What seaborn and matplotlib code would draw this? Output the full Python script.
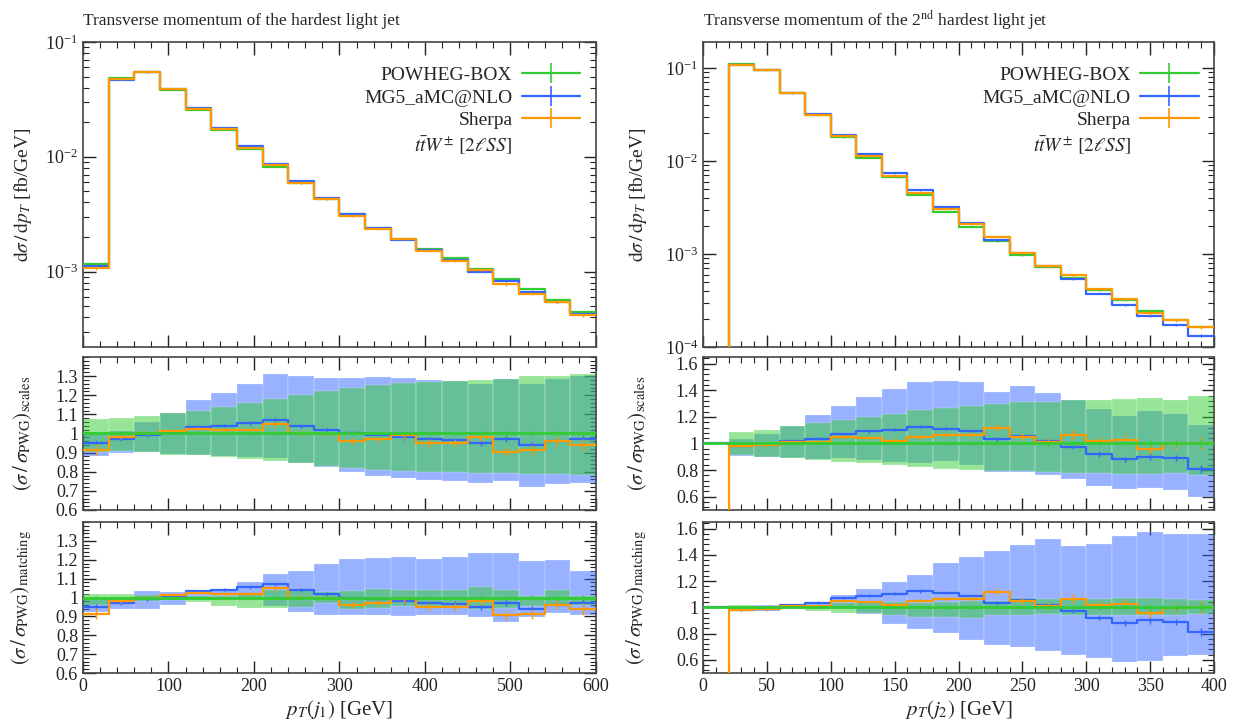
import numpy as np
import matplotlib
matplotlib.use("Agg")
import matplotlib.pyplot as plt
import seaborn as sns
from matplotlib.lines import Line2D
from matplotlib.ticker import MultipleLocator, FuncFormatter

# ---- hardest light jet, 30 GeV bins 0..600
edges_j1 = np.arange(0, 601, 30)
pwg_j1 = [1.17e-3, 0.0484, 0.0551, 0.0385, 0.0256, 0.0172, 0.0117, 0.00816, 0.00586, 0.00426,
          0.00316, 0.00241, 0.00193, 0.00158, 0.00131, 0.00105, 8.56e-4, 7.0e-4, 5.62e-4, 4.44e-4]
mg5_ratio_j1 = [0.95, 0.97, 0.99, 1.01, 1.035, 1.04, 1.055, 1.07, 1.04, 1.02,
                1.0, 0.99, 0.98, 0.97, 0.965, 0.95, 0.97, 0.94, 0.96, 0.97]
sherpa_ratio_j1 = [0.915, 0.98, 1.0, 1.015, 1.025, 1.017, 1.02, 1.048, 1.0, 0.997,
                   0.962, 0.972, 0.99, 0.95, 0.95, 0.983, 0.905, 0.913, 0.962, 0.94]
pwg_err_j1 = [0.01, 0.004, 0.004, 0.004, 0.005, 0.005, 0.006, 0.006, 0.007, 0.007,
              0.008, 0.008, 0.009, 0.01, 0.01, 0.011, 0.012, 0.012, 0.013, 0.014]
mg5_err_j1 = [0.015, 0.008, 0.006, 0.006, 0.007, 0.008, 0.008, 0.009, 0.01, 0.01,
              0.01, 0.012, 0.012, 0.013, 0.014, 0.015, 0.016, 0.017, 0.018, 0.02]
sherpa_err_j1 = [0.03, 0.01, 0.006, 0.008, 0.008, 0.01, 0.01, 0.012, 0.012, 0.012,
                 0.015, 0.015, 0.018, 0.02, 0.02, 0.022, 0.025, 0.025, 0.025, 0.03]
pwg_scale_up_j1 = [1.075, 1.08, 1.09, 1.105, 1.12, 1.14, 1.16, 1.18, 1.20, 1.22,
                   1.24, 1.255, 1.265, 1.27, 1.275, 1.28, 1.285, 1.30, 1.30, 1.31]
pwg_scale_dn_j1 = [0.905, 0.91, 0.905, 0.89, 0.885, 0.875, 0.865, 0.855, 0.845, 0.83,
                   0.82, 0.81, 0.805, 0.80, 0.80, 0.795, 0.795, 0.79, 0.79, 0.785]
mg5_scale_up_j1 = [1.01, 1.015, 1.06, 1.105, 1.175, 1.21, 1.26, 1.31, 1.30, 1.29,
                   1.29, 1.295, 1.29, 1.28, 1.275, 1.26, 1.285, 1.26, 1.285, 1.30]
mg5_scale_dn_j1 = [0.88, 0.90, 0.905, 0.895, 0.89, 0.88, 0.875, 0.87, 0.845, 0.825,
                   0.80, 0.78, 0.765, 0.755, 0.75, 0.74, 0.75, 0.72, 0.735, 0.74]
pwg_match_up_j1 = [1.02, 1.02, 1.015, 1.01, 1.01, 1.01, 1.02, 1.04, 1.04, 1.03,
                   1.035, 1.045, 1.04, 1.04, 1.04, 1.055, 1.04, 1.01, 1.04, 1.01]
pwg_match_dn_j1 = [0.96, 0.97, 0.98, 0.985, 0.975, 0.955, 0.945, 0.945, 0.95, 0.97,
                   0.94, 0.945, 0.955, 0.955, 0.955, 0.94, 0.945, 0.955, 0.96, 0.96]
mg5_match_up_j1 = [0.995, 1.0, 1.035, 1.03, 1.03, 1.04, 1.08, 1.125, 1.14, 1.175,
                   1.205, 1.21, 1.215, 1.205, 1.215, 1.235, 1.235, 1.195, 1.20, 1.14]
mg5_match_dn_j1 = [0.925, 0.94, 0.94, 0.96, 0.985, 0.985, 0.99, 0.955, 0.925, 0.905,
                   0.91, 0.905, 0.90, 0.91, 0.91, 0.895, 0.87, 0.895, 0.92, 0.91]

# ---- 2nd hardest light jet, 20 GeV bins 0..400
edges_j2 = np.arange(0, 401, 20)
pwg_j2 = [0.0, 0.110, 0.096, 0.0533, 0.0309, 0.0179, 0.0108, 0.00669, 0.00431, 0.00285,
          0.00197, 0.00137, 9.72e-4, 7.28e-4, 5.54e-4, 4.08e-4, 3.19e-4, 2.42e-4, 1.94e-4, 1.64e-4]
mg5_ratio_j2 = [1.0, 0.98, 0.99, 1.015, 1.037, 1.07, 1.09, 1.105, 1.125, 1.11,
                1.09, 1.03, 1.055, 1.02, 0.975, 0.92, 0.88, 0.90, 0.89, 0.81]
sherpa_ratio_j2 = [0.0, 0.98, 0.985, 1.01, 1.01, 1.045, 1.04, 1.02, 1.045, 1.065,
                   1.065, 1.12, 1.05, 1.01, 1.065, 1.02, 1.025, 0.96, 0.995, 1.0]
pwg_err_j2 = [0.0, 0.004, 0.004, 0.005, 0.005, 0.006, 0.006, 0.007, 0.008, 0.009,
              0.01, 0.012, 0.014, 0.016, 0.018, 0.02, 0.022, 0.025, 0.028, 0.03]
mg5_err_j2 = [0.0, 0.01, 0.01, 0.01, 0.01, 0.01, 0.01, 0.012, 0.012, 0.012,
              0.015, 0.015, 0.015, 0.02, 0.02, 0.02, 0.02, 0.025, 0.025, 0.03]
sherpa_err_j2 = [0.0, 0.01, 0.01, 0.01, 0.01, 0.012, 0.012, 0.012, 0.015, 0.015,
                 0.02, 0.025, 0.025, 0.03, 0.035, 0.03, 0.035, 0.04, 0.04, 0.045]
pwg_scale_up_j2 = [1.005, 1.085, 1.10, 1.135, 1.155, 1.175, 1.20, 1.22, 1.25, 1.27,
                   1.285, 1.30, 1.31, 1.315, 1.325, 1.33, 1.335, 1.34, 1.33, 1.36]
pwg_scale_dn_j2 = [0.995, 0.91, 0.90, 0.89, 0.875, 0.86, 0.85, 0.84, 0.82, 0.81,
                   0.80, 0.79, 0.79, 0.785, 0.78, 0.775, 0.77, 0.77, 0.775, 0.76]
mg5_scale_up_j2 = [1.0, 1.03, 1.07, 1.13, 1.215, 1.285, 1.35, 1.41, 1.46, 1.47,
                   1.46, 1.39, 1.43, 1.38, 1.325, 1.26, 1.21, 1.245, 1.225, 1.14]
mg5_scale_dn_j2 = [1.0, 0.905, 0.895, 0.89, 0.88, 0.89, 0.875, 0.86, 0.85, 0.865,
                   0.84, 0.785, 0.785, 0.76, 0.73, 0.68, 0.66, 0.665, 0.65, 0.595]
pwg_match_up_j2 = [1.005, 1.015, 1.01, 1.01, 1.015, 1.03, 1.04, 1.04, 1.035, 1.04,
                   1.045, 1.05, 1.07, 1.06, 1.06, 1.06, 1.07, 1.07, 1.06, 1.055]
pwg_match_dn_j2 = [0.995, 0.99, 0.99, 0.985, 0.97, 0.96, 0.955, 0.945, 0.925, 0.93,
                   0.92, 0.94, 0.94, 0.95, 0.945, 0.94, 0.94, 0.94, 0.945, 0.95]
mg5_match_up_j2 = [1.0, 1.005, 1.015, 1.025, 1.04, 1.095, 1.14, 1.19, 1.25, 1.335,
                   1.38, 1.43, 1.475, 1.52, 1.465, 1.48, 1.54, 1.575, 1.56, 1.555]
mg5_match_dn_j2 = [1.0, 0.975, 0.975, 0.995, 0.995, 0.985, 0.95, 0.87, 0.835, 0.805,
                   0.75, 0.71, 0.70, 0.665, 0.635, 0.615, 0.585, 0.595, 0.63, 0.635]

GREEN = "#33cc33"
BLUE = "#3366ff"
ORANGE = "#ff9900"
SPINE = "#444444"

sns.set_theme(style="ticks")
plt.rcParams["font.family"] = ["Liberation Serif", "DejaVu Serif"]
plt.rcParams["mathtext.fontset"] = "stix"
plt.rcParams["axes.edgecolor"] = SPINE
plt.rcParams["axes.linewidth"] = 1.2


def steps(ax, edges, vals, color, lw=1.6, zorder=3, floor=None):
    y = np.append(vals, vals[-1]).astype(float)
    if floor is not None:
        y = np.where(y > 0, y, floor)
    sns.lineplot(x=edges, y=y, drawstyle="steps-post", color=color, lw=lw,
                 ax=ax, estimator=None, sort=False, zorder=zorder)


def bands(ax, edges, up, dn, color, zorder):
    up = np.asarray(up)
    dn = np.asarray(dn)
    ax.bar(edges[:-1], up - dn, bottom=dn, width=np.diff(edges), align="edge",
           color=color, alpha=0.5, edgecolor="white", linewidth=0.3, zorder=zorder)


def errs(ax, centers, vals, err, color, zorder):
    vals = np.asarray(vals, dtype=float)
    err = np.asarray(err, dtype=float)
    keep = err > 0
    ax.errorbar(centers[keep], vals[keep], yerr=err[keep], fmt="none",
                ecolor=color, elinewidth=1.0, zorder=zorder)


def style(ax, xmaj, xmin, show_x):
    ax.tick_params(which="both", direction="in", top=True, right=True,
                   colors="#222222", labelsize=13)
    ax.tick_params(which="major", length=9, width=1.0)
    ax.tick_params(which="minor", length=4.5, width=0.8)
    ax.xaxis.set_major_locator(MultipleLocator(xmaj))
    ax.xaxis.set_minor_locator(MultipleLocator(xmin))
    if not show_x:
        ax.tick_params(labelbottom=False)
    for s in ax.spines.values():
        s.set_color(SPINE)
        s.set_linewidth(1.2)


def column(fig, left, width, edges, pwg, mg5_r, she_r, pwg_e, mg5_e, she_e,
           sc, mt, title, xlabel, xmaj, xmin, main_ylim, ratio_ylim, rmaj, rmin,
           rticks, label_x):
    pwg = np.asarray(pwg)
    mg5 = pwg * np.asarray(mg5_r)
    she = pwg * np.asarray(she_r)
    centers = 0.5 * (edges[:-1] + edges[1:])
    xlim = (edges[0], edges[-1])

    ax0 = fig.add_axes([left, 0.5207, width, 0.4213])
    ax1 = fig.add_axes([left, 0.2956, width, 0.2113])
    ax2 = fig.add_axes([left, 0.0704, width, 0.2086])

    # main distribution
    ax0.set_yscale("log")
    steps(ax0, edges, pwg, GREEN, floor=1e-12, zorder=3)
    steps(ax0, edges, mg5, BLUE, floor=1e-12, zorder=4)
    steps(ax0, edges, she, ORANGE, floor=1e-12, zorder=5)
    errs(ax0, centers, pwg, pwg * np.asarray(pwg_e), GREEN, 3)
    errs(ax0, centers, mg5, mg5 * np.asarray(mg5_e), BLUE, 4)
    errs(ax0, centers, she, she * np.asarray(she_e), ORANGE, 5)
    ax0.set_xlim(*xlim)
    ax0.set_ylim(*main_ylim)
    ax0.set_ylabel(r"$\mathrm{d}\sigma\,/\,\mathrm{d}p_T$ [fb/GeV]", fontsize=14)
    ax0.set_xlabel("")
    ax0.set_title(title, loc="left", fontsize=12.5, pad=12)
    style(ax0, xmaj, xmin, False)

    handles = [
        Line2D([], [], color=GREEN, lw=1.6, marker="|", markersize=14, mew=1.2),
        Line2D([], [], color=BLUE, lw=1.6, marker="|", markersize=14, mew=1.2),
        Line2D([], [], color=ORANGE, lw=1.6, marker="|", markersize=14, mew=1.2),
        Line2D([], [], color="none", lw=0),
    ]
    labels = ["POWHEG-BOX", "MG5_aMC@NLO", "Sherpa", r"$t\bar{t}W^{\pm}\ [2\ell SS]$"]
    ax0.legend(handles, labels, loc="upper right", bbox_to_anchor=(0.985, 0.945),
               frameon=False, markerfirst=False, fontsize=14, handlelength=3.0,
               handletextpad=0.5, labelspacing=0.25, borderaxespad=0)

    # ratio panels
    for ax, (up_p, dn_p, up_m, dn_m), name in [(ax1, sc, "scales"), (ax2, mt, "matching")]:
        bands(ax, edges, up_m, dn_m, BLUE, 1)
        bands(ax, edges, up_p, dn_p, GREEN, 2)
        steps(ax, edges, mg5_r, BLUE, zorder=4)
        steps(ax, edges, she_r, ORANGE, zorder=5)
        steps(ax, edges, np.ones(len(pwg)), GREEN, lw=2.0, zorder=6)
        errs(ax, centers, mg5_r, mg5_e, BLUE, 4)
        errs(ax, centers, she_r, she_e, ORANGE, 5)
        errs(ax, centers, np.ones(len(pwg)), pwg_e, GREEN, 6)
        ax.set_xlim(*xlim)
        ax.set_ylim(*ratio_ylim)
        ax.yaxis.set_major_locator(MultipleLocator(rmaj))
        ax.yaxis.set_minor_locator(MultipleLocator(rmin))
        ax.set_yticks(rticks)
        ax.yaxis.set_major_formatter(FuncFormatter(lambda v, p: f"{v:g}"))
        ax.set_ylabel(r"$(\sigma\,/\,\sigma_{\mathrm{PWG}})_{\mathrm{%s}}$" % name, fontsize=15)
        ax.set_xlabel("")
        style(ax, xmaj, xmin, ax is ax2)

    ax2.set_xlabel(xlabel, fontsize=15, labelpad=2)
    for ax in (ax0, ax1, ax2):
        ax.yaxis.set_label_coords(label_x, 0.5)


fig = plt.figure(figsize=(12.33, 7.24), dpi=100)

column(fig, 0.0673, 0.4160, edges_j1, pwg_j1, mg5_ratio_j1, sherpa_ratio_j1,
       pwg_err_j1, mg5_err_j1, sherpa_err_j1,
       (pwg_scale_up_j1, pwg_scale_dn_j1, mg5_scale_up_j1, mg5_scale_dn_j1),
       (pwg_match_up_j1, pwg_match_dn_j1, mg5_match_up_j1, mg5_match_dn_j1),
       "Transverse momentum of the hardest light jet", r"$p_T(j_1)$ [GeV]",
       100, 20, (2.2e-4, 0.1), (0.6, 1.4), 0.1, 0.02,
       [0.6, 0.7, 0.8, 0.9, 1.0, 1.1, 1.2, 1.3], -0.095)

column(fig, 0.5702, 0.4144, edges_j2, pwg_j2, mg5_ratio_j2, sherpa_ratio_j2,
       pwg_err_j2, mg5_err_j2, sherpa_err_j2,
       (pwg_scale_up_j2, pwg_scale_dn_j2, mg5_scale_up_j2, mg5_scale_dn_j2),
       (pwg_match_up_j2, pwg_match_dn_j2, mg5_match_up_j2, mg5_match_dn_j2),
       r"Transverse momentum of the 2$^{\mathrm{nd}}$ hardest light jet", r"$p_T(j_2)$ [GeV]",
       50, 10, (1e-4, 0.19), (0.5, 1.65), 0.2, 0.04,
       [0.6, 0.8, 1.0, 1.2, 1.4, 1.6], -0.105)

fig.savefig("out.png", dpi=100)
plt.close(fig)
